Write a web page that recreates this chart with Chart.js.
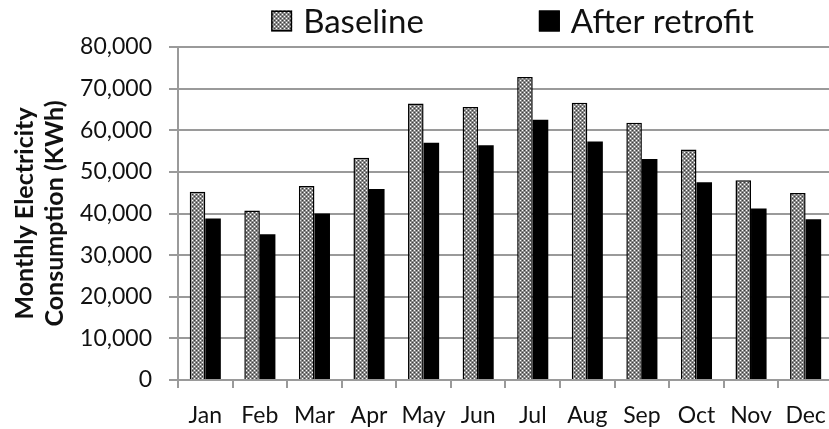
<!DOCTYPE html>
<html>
<head>
<meta charset="utf-8">
<script src="https://cdn.jsdelivr.net/npm/chart.js@4.4.1/dist/chart.umd.min.js"></script>
<style>
  html, body { margin: 0; padding: 0; background: #ffffff; overflow: hidden; }
  #wrap { position: relative; width: 840px; height: 429px; }
</style>
</head>
<body>
<div id="wrap"><canvas id="chart"></canvas></div>
<script>
// Monthly electricity use before and after the retrofit (kWh)
const months = ['Jan', 'Feb', 'Mar', 'Apr', 'May', 'Jun', 'Jul', 'Aug', 'Sep', 'Oct', 'Nov', 'Dec'];
const baselineKWh = [45200, 40700, 46600, 53400, 66400, 65600, 72800, 66600, 61800, 55400, 48000, 44900];
const retrofitKWh = [38800, 35000, 40000, 45900, 57000, 56400, 62500, 57300, 53100, 47500, 41200, 38600];
const seriesNames = ['Baseline', 'After retrofit'];
const yAxisTitle = ['Monthly Electricity', 'Consumption (KWh)'];

const FONT = 'Lato, "Open Sans", sans-serif';
const GRID = '#9a9a9a';
const TEXT = '#111111';

// Fine grey dot texture for the baseline bars
function dotPattern() {
  const tile = document.createElement('canvas');
  tile.width = 4; tile.height = 4;
  const g = tile.getContext('2d');
  g.fillStyle = '#8a8a8a'; g.fillRect(0, 0, 4, 4);
  g.fillStyle = '#ffffff'; g.fillRect(0, 0, 1, 1); g.fillRect(2, 2, 1, 1);
  g.fillStyle = '#3c3c3c'; g.fillRect(2, 0, 1, 1); g.fillRect(0, 2, 1, 1);
  return g.createPattern(tile, 'repeat');
}

// Legend drawn across the top, spaced wider than the built-in one allows
const topLegend = {
  id: 'topLegend',
  afterDraw(chart, args, opts) {
    const ctx = chart.ctx;
    const area = chart.chartArea;
    ctx.save();
    ctx.font = opts.fontSize + 'px ' + opts.fontFamily;
    ctx.textBaseline = 'middle';
    ctx.textAlign = 'left';
    const items = chart.data.datasets.map(ds => ({
      label: ds.label,
      fill: ds.backgroundColor,
      width: ctx.measureText(ds.label).width
    }));
    const total = items.reduce((s, it) => s + opts.box + opts.textGap + it.width, 0) + opts.itemGap * (items.length - 1);
    let x = (area.left + area.right) / 2 + opts.shift - total / 2;
    const cy = opts.centerY;
    items.forEach(it => {
      ctx.fillStyle = it.fill;
      ctx.fillRect(x, cy - opts.box / 2, opts.box, opts.box);
      ctx.lineWidth = 1.5;
      ctx.strokeStyle = '#000000';
      ctx.strokeRect(x + 0.75, cy - opts.box / 2 + 0.75, opts.box - 1.5, opts.box - 1.5);
      ctx.fillStyle = TEXT;
      ctx.fillText(it.label, x + opts.box + opts.textGap, cy + opts.textDy);
      x += opts.box + opts.textGap + it.width + opts.itemGap;
    });
    ctx.restore();
  }
};

const ctx = document.getElementById('chart').getContext('2d');
new Chart(ctx, {
  type: 'bar',
  data: {
    labels: months,
    datasets: [
      {
        label: seriesNames[0],
        data: baselineKWh,
        backgroundColor: dotPattern(),
        borderColor: '#000000',
        borderWidth: 1.5,
        borderSkipped: 'start'
      },
      {
        label: seriesNames[1],
        data: retrofitKWh,
        backgroundColor: '#000000',
        borderColor: '#000000',
        borderWidth: 0
      }
    ]
  },
  options: {
    responsive: true,
    maintainAspectRatio: false,
    animation: false,
    devicePixelRatio: 1,
    layout: { padding: { top: 47, right: 4, bottom: 0, left: 0 } },
    datasets: { bar: { categoryPercentage: 0.57, barPercentage: 1.0 } },
    plugins: {
      legend: { display: false },
      tooltip: { enabled: false },
      topLegend: {
        fontSize: 33, fontFamily: FONT,
        box: 21, textGap: 11, itemGap: 115,
        shift: 7, centerY: 21, textDy: 1
      }
    },
    scales: {
      x: {
        offset: true,
        grid: { display: true, drawOnChartArea: false, drawTicks: true, tickLength: 8, color: GRID, lineWidth: 2, offset: true },
        border: { display: true, color: GRID, width: 2 },
        ticks: { color: TEXT, font: { family: FONT, size: 23 }, padding: 14, maxRotation: 0, autoSkip: false },
        afterFit(scale) { scale.height = 49; }
      },
      y: {
        min: 0, max: 80000,
        ticks: {
          stepSize: 10000,
          color: TEXT,
          font: { family: FONT, size: 23 },
          padding: 17,
          callback: v => Number(v).toLocaleString('en-US')
        },
        grid: { color: GRID, lineWidth: 2, drawTicks: true, tickLength: 9 },
        border: { display: true, color: GRID, width: 2 },
        title: {
          display: true,
          text: yAxisTitle,
          color: TEXT,
          font: { family: FONT, size: 25, weight: 'bold', lineHeight: 1.2 },
          padding: { top: 10, bottom: 0 }
        },
        afterFit(scale) { scale.width = 178; }
      }
    }
  },
  plugins: [topLegend]
});
</script>
</body>
</html>
